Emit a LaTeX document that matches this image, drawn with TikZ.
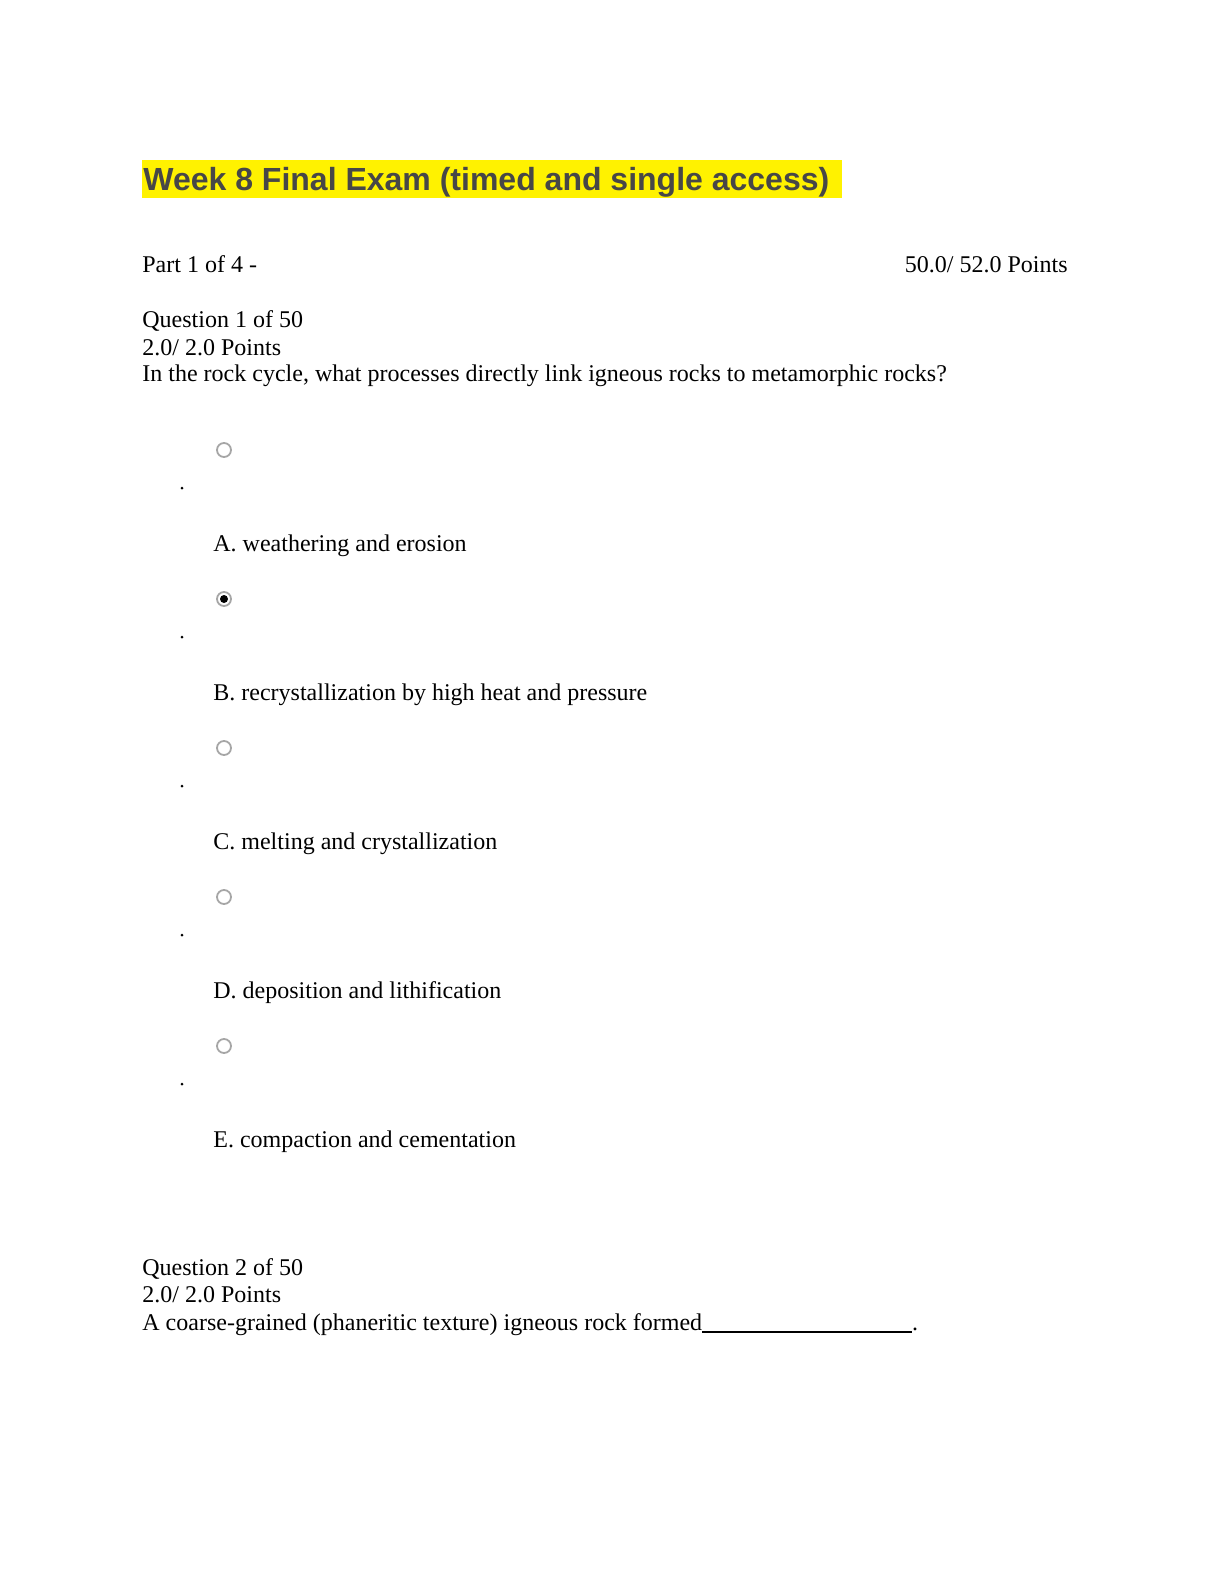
\documentclass[tikz,border=0pt]{standalone}
\usepackage{fontspec}
\setmainfont{Liberation Serif}
\newfontfamily\titlefont{Liberation Sans}
\begin{document}
\begin{tikzpicture}[x=0.5pt,y=-0.5pt,
  txt/.style={anchor=base west,inner sep=0pt,font=\fontsize{12}{14}\selectfont},
  radio/.style={circle,draw=gray!70,line width=0.9pt,minimum size=7pt,inner sep=0pt},
  bul/.style={circle,fill=black,minimum size=1.5pt,inner sep=0pt}]
\useasboundingbox (0,0) rectangle (1224,1584);
\fill[yellow] (142,160) rectangle (842,198);
\node[anchor=base west,inner sep=0pt,font=\titlefont\bfseries\fontsize{16}{19}\selectfont,text=black!72] (title) at (143,191) {Week 8 Final Exam (timed and single access)};
\node[txt] (part) at (142,272) {Part 1 of 4 -};
\node[txt,anchor=base east] (pts) at (1068,272) {50.0/ 52.0 Points};
\node[txt] (q1) at (142,327) {Question 1 of 50};
\node[txt] (q1p) at (142,355) {2.0/ 2.0 Points};
\node[txt] (q1t) at (142,381) {In the rock cycle, what processes directly link igneous rocks to metamorphic rocks?};
\foreach \y/\t [count=\i] in {0/A. weathering and erosion,149/B. recrystallization by high heat and pressure,298/C. melting and crystallization,447/D. deposition and lithification,596/E. compaction and cementation}{
  \node[radio] (r\i) at (224,450+\y) {};
  \node[bul] (b\i) at (182,488+\y) {};
  \node[txt] (o\i) at (213,551+\y) {\t};
}
\fill (r2) circle (2pt);
\node[txt] (q2) at (142,1275) {Question 2 of 50};
\node[txt] (q2p) at (142,1302) {2.0/ 2.0 Points};
\node[txt] (q2t) at (142,1330) {A coarse-grained (phaneritic texture) igneous rock formed\rule[-1.5pt]{105pt}{0.8pt}.};
\end{tikzpicture}
\end{document}
